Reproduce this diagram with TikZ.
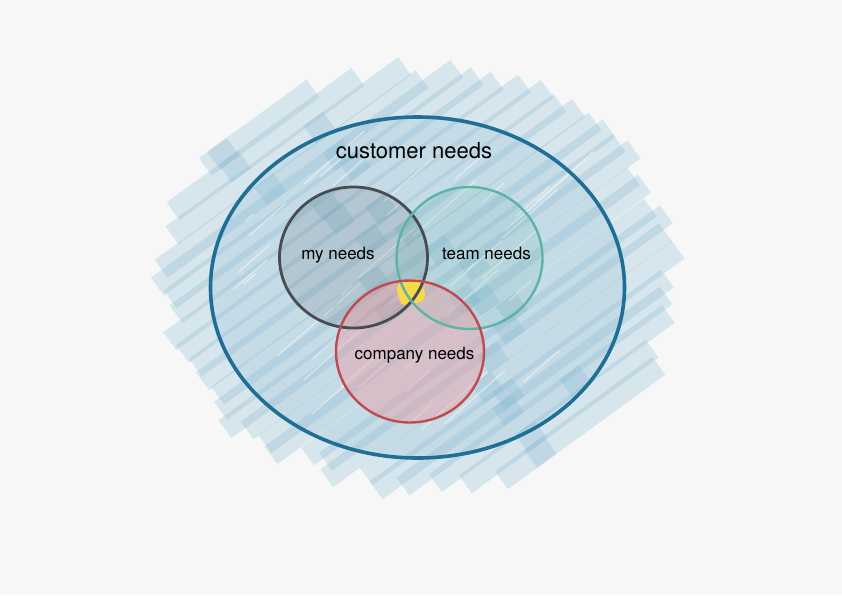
\documentclass[tikz,border=0pt]{standalone}
\usepackage{fontspec}
\setmainfont{TeX Gyre Heros}
\begin{document}
\begin{tikzpicture}[x=1pt,y=-1pt,
  hatch/.style={line width=22pt, draw=hatchblue, draw opacity=0.28, line cap=butt},
  streak/.style={line width=1.4pt, draw=white, draw opacity=0.45, line cap=round},
  lbl/.style={anchor=base, inner sep=0pt, font=\fontsize{17}{20}\selectfont, text=black}]
\definecolor{bg}{HTML}{F7F7F7}
\definecolor{hatchblue}{RGB}{135,185,210}
\definecolor{outerblue}{HTML}{1F6E96}
\definecolor{mygray}{HTML}{474C52}
\definecolor{teamteal}{HTML}{5EB4A4}
\definecolor{compred}{HTML}{BF4A50}
\definecolor{pinkfill}{RGB}{240,150,155}
\definecolor{yel}{HTML}{F7D94A}
\fill[bg] (0,0) rectangle (842,595);
\useasboundingbox (0,0) rectangle (842,595);
% light wash inside the big ellipse
\fill[hatchblue, opacity=0.22] (417.5,287.5) ellipse [x radius=207, y radius=170];
% hatch strokes
\pgfmathsetseed{5}
\pgfmathsetmacro{\ang}{36}
\pgfmathsetmacro{\cc}{cos(\ang)}
\pgfmathsetmacro{\ss}{sin(\ang)}
\pgfmathsetmacro{\rx}{2.55}
\pgfmathsetmacro{\ry}{2.08}
\pgfmathsetmacro{\A}{\cc*\cc/(\rx*\rx)+\ss*\ss/(\ry*\ry)}
\pgfmathsetmacro{\Bk}{2*(\ss*\cc/(\rx*\rx)-\cc*\ss/(\ry*\ry))}
\pgfmathsetmacro{\Ck}{\ss*\ss/(\rx*\rx)+\cc*\cc/(\ry*\ry)}
\foreach \t in {-2.15,-1.98,...,2.15} {
  \pgfmathsetmacro{\disc}{(\Bk*\t)^2-4*\A*(\Ck*\t*\t-1)}
  \pgfmathsetmacro{\sq}{sqrt(max(\disc,0.01))}
  \pgfmathsetmacro{\sa}{(-\Bk*\t-\sq)/(2*\A) + 0.15*rand}
  \pgfmathsetmacro{\sb}{(-\Bk*\t+\sq)/(2*\A) + 0.15*rand}
  \pgfmathsetmacro{\sm}{(\sa+\sb)/2 + 0.5*rand}
  \pgfmathsetmacro{\tt}{\t+0.03*rand}
  \pgfmathsetmacro{\xa}{100*(4.2+\ss*\tt+\cc*\sa)}
  \pgfmathsetmacro{\ya}{100*(2.8+\cc*\tt-\ss*\sa)}
  \pgfmathsetmacro{\xm}{100*(4.2+\ss*\tt+\cc*(\sm+0.12))}
  \pgfmathsetmacro{\ym}{100*(2.8+\cc*\tt-\ss*(\sm+0.12))}
  \pgfmathsetmacro{\xn}{100*(4.2+\ss*\tt+\cc*(\sm-0.12))}
  \pgfmathsetmacro{\yn}{100*(2.8+\cc*\tt-\ss*(\sm-0.12))}
  \pgfmathsetmacro{\xb}{100*(4.2+\ss*\tt+\cc*\sb)}
  \pgfmathsetmacro{\yb}{100*(2.8+\cc*\tt-\ss*\sb)}
  \draw[hatch] (\xa,\ya) -- (\xm,\ym);
  \draw[hatch] (\xn,\yn) -- (\xb,\yb);
}
% thin white streaks for texture
\pgfmathsetseed{23}
\foreach \i in {1,...,40} {
  \pgfmathsetmacro{\px}{417+170*rand}
  \pgfmathsetmacro{\py}{288+135*rand}
  \pgfmathsetmacro{\len}{25+20*rand}
  \draw[streak] ({\px-\len*0.75},{\py+\len*0.66}) -- ({\px+\len*0.75},{\py-\len*0.66});
}
% inner tinted fills
\fill[mygray, opacity=0.14] (353.5,257.5) ellipse [x radius=74, y radius=71];
\fill[teamteal, opacity=0.14] (469.5,258) ellipse [x radius=73, y radius=71];
\fill[pinkfill, opacity=0.4] (410,351.5) ellipse [x radius=74, y radius=71];
% yellow spot
\fill[yel, rounded corners=7pt, rotate around={15:(411,292)}] (398,280) rectangle (424,304);
% outlines
\draw[outerblue, line width=3.6pt] (417.5,287.5) ellipse [x radius=207, y radius=170.5];
\draw[mygray, line width=2.8pt] (353.5,257.5) ellipse [x radius=74, y radius=70.5];
\draw[teamteal, line width=2.4pt] (469.5,258) ellipse [x radius=73, y radius=71];
\draw[compred, line width=2.4pt] (410,351.5) ellipse [x radius=74, y radius=71];
% labels
\node[lbl, font=\fontsize{22}{26}\selectfont] (cust) at (414,158) {customer needs};
\node[lbl] (mine) at (338,259) {my needs};
\node[lbl] (team) at (486.5,259) {team needs};
\node[lbl] (comp) at (414.5,359) {company needs};
\end{tikzpicture}
\end{document}
